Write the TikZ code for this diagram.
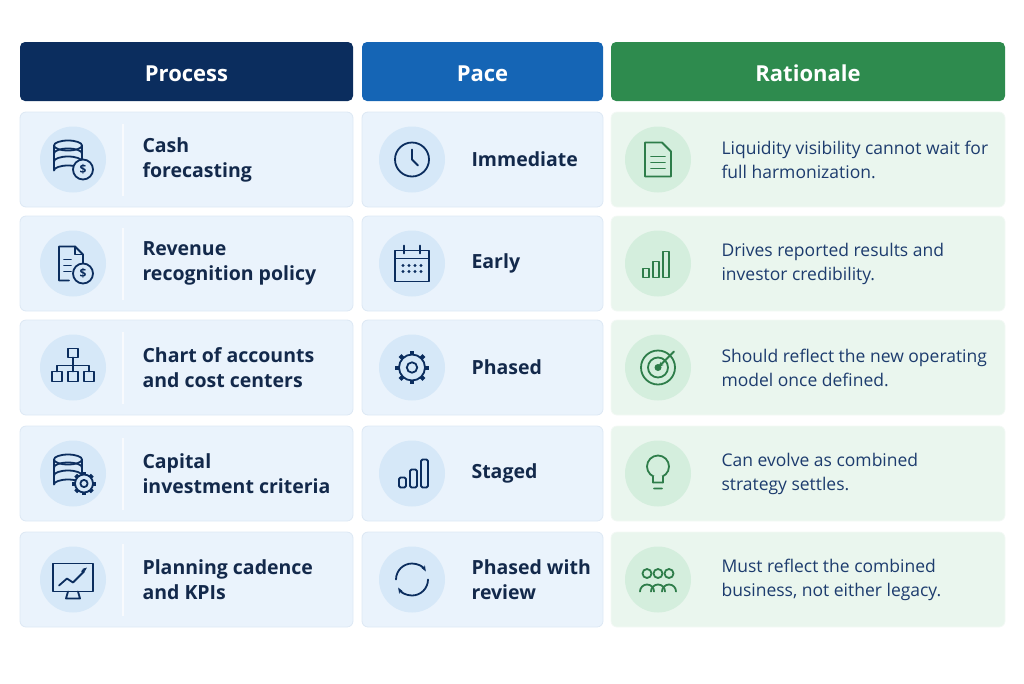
\documentclass[tikz,border=0pt]{standalone}
\usepackage{fontspec}
\setmainfont{Open Sans}
\usetikzlibrary{arrows.meta}
\definecolor{navy}{HTML}{0B2D5E}
\definecolor{paceblue}{HTML}{1565B5}
\definecolor{ratgreen}{HTML}{2E8B4E}
\definecolor{cellblue}{HTML}{EAF3FC}
\definecolor{cellgreen}{HTML}{EAF6EE}
\definecolor{cellline}{HTML}{DCE8F4}
\definecolor{icobg}{HTML}{D6E8F8}
\definecolor{icogbg}{HTML}{D4EEDD}
\definecolor{ink}{HTML}{13294B}
\definecolor{rink}{HTML}{1D3C6E}
\definecolor{gink}{HTML}{2E7D4A}
\tikzset{
  head/.style={rounded corners=5pt, text=white, font=\fontsize{22}{26}\selectfont\bfseries,
    minimum height=59pt, inner sep=0pt, text height=22pt, text depth=2pt},
  cell/.style={draw=cellline, line width=0.8pt, rounded corners=6pt, minimum height=95pt, inner sep=0pt},
  disc/.style={fill=icobg, circle, minimum size=66pt, inner sep=0pt},
  ico/.style={draw=navy, line width=1.8pt, line cap=round, line join=round},
  lbl/.style={anchor=west, align=left, text=ink, font=\fontsize{19.5}{25}\selectfont\bfseries},
  rlbl/.style={anchor=west, align=left, text=rink, font=\fontsize{17.5}{24}\selectfont},
  coin/.pic={\filldraw[ico, fill=icobg] (0,0) circle (10pt);
    \node[text=navy, font=\fontsize{12}{12}\selectfont\bfseries] at (0,0) {\$};},
  db/.pic={
    \draw[ico] (-5,-14) ellipse (14pt and 5pt);
    \draw[ico] (-19,-14) -- (-19,11) arc[start angle=180, end angle=0, x radius=14pt, y radius=5pt] -- (9,-14);
    \foreach \b in {-6,2} \draw[ico] (-19,\b) arc[start angle=180, end angle=0, x radius=14pt, y radius=5pt];},
  gear/.pic={
    \foreach \a in {0,45,...,315} \draw[navy, line width=4pt] (\a:8pt) -- (\a:13pt);
    \filldraw[ico, fill=icobg] (0,0) circle (10pt);
    \draw[ico] (0,0) circle (4pt);},
}
\begin{document}
\begin{tikzpicture}[x=1pt, y=-1pt]
  \useasboundingbox (0,0) rectangle (1024,683);
  \node[head, fill=navy, minimum width=333pt] (hproc) at (186.5,71.5) {Process};
  \node[head, fill=paceblue, minimum width=241pt] (hpace) at (482.5,71.5) {Pace};
  \node[head, fill=ratgreen, minimum width=394pt] (hrat) at (808,71.5) {Rationale};
  \foreach \n/\y/\ptext/\pace/\rtext in {
      1/159.5/{Cash\\forecasting}/Immediate/{Liquidity visibility cannot wait for\\full harmonization.},
      2/263.5/{Revenue\\recognition policy}/Early/{Drives reported results and\\investor credibility.},
      3/367.5/{Chart of accounts\\and cost centers}/Phased/{Should reflect the new operating\\model once defined.},
      4/473.5/{Capital\\investment criteria}/Staged/{Can evolve as combined\\strategy settles.},
      5/579.5/{Planning cadence\\and KPIs}/{Phased with\\review}/{Must reflect the combined\\business, not either legacy.}} {
    \node[cell, fill=cellblue, minimum width=333pt] (pc\n) at (186.5,\y) {};
    \node[cell, fill=cellblue, minimum width=241pt] (ac\n) at (482.5,\y) {};
    \node[cell, fill=cellgreen, draw=cellgreen!80!ratgreen!20, minimum width=394pt] (rc\n) at (808,\y) {};
    \node[disc] (pi\n) at (73,\y) {};
    \node[disc] (ai\n) at (412,\y) {};
    \node[disc, fill=icogbg] (ri\n) at (658,\y) {};
    \draw[white!80!cellline, line width=1.2pt] (123,\y-36) -- (123,\y+36);
    \node[lbl] (pt\n) at (139,\y) {\ptext};
    \node[lbl] (at\n) at (468,\y) {\pace};
    \node[rlbl] (rt\n) at (718,\y) {\rtext};
  }
  % process icons
  \pic at (pi1) {db};
  \pic at ([shift={(10,10)}]pi1.center) {coin};
  \draw[ico] ([shift={(-14,-17)}]pi2.center) -- ++(16,0) -- ++(8,8) -- ++(0,9)
    ([shift={(-4,17)}]pi2.center) -- ++(-10,0) -- ++(0,-34);
  \draw[ico] ([shift={(2,-17)}]pi2.center) -- ++(0,8) -- ++(8,0);
  \foreach \l in {-4,2,8} \draw[ico] ([shift={(-9,\l)}]pi2.center) -- ++(7,0);
  \pic at ([shift={(10,10)}]pi2.center) {coin};
  \draw[ico] ([shift={(-5,-19)}]pi3.center) rectangle ++(10,9);
  \draw[ico] ([shift={(0,-10)}]pi3.center) -- ++(0,8) ([shift={(-16,4)}]pi3.center) -- ++(0,-6) -- ++(32,0) -- ++(0,6);
  \foreach \d in {-16,0,16} \draw[ico] ([shift={(\d-5,4)}]pi3.center) rectangle ++(10,10);
  \draw[ico] ([shift={(0,-2)}]pi3.center) -- ++(0,6);
  \pic at (pi4) {db};
  \pic[scale=0.9] at ([shift={(11,10)}]pi4.center) {gear};
  \draw[ico] ([shift={(-20,-16)}]pi5.center) rectangle ++(40,28);
  \draw[ico] ([shift={(-5,12)}]pi5.center) -- ++(-2,7) -- ++(14,0) -- ++(-2,-7);
  \draw[ico] ([shift={(-14,6)}]pi5.center) -- ++(8,-7) -- ++(6,4) -- ++(11,-11);
  \draw[ico, -{Stealth[length=5pt]}] ([shift={(9,-8)}]pi5.center) -- ++(5,-4);
  % pace icons
  \draw[ico] (ai1) circle (17pt);
  \draw[ico] ([shift={(0,-10)}]ai1.center) -- (ai1.center) -- ++(6,6);
  \draw[ico] ([shift={(-17,-13)}]ai2.center) rectangle ++(34,31);
  \draw[ico] ([shift={(-17,-5)}]ai2.center) -- ++(34,0)
    ([shift={(-8,-18)}]ai2.center) -- ++(0,8) ([shift={(8,-18)}]ai2.center) -- ++(0,8);
  \foreach \cx in {-9,-3,3,9} \foreach \cy in {2,8} \fill[navy] ([shift={(\cx,\cy)}]ai2.center) circle (1.6pt);
  \pic[scale=1.3] at (ai3) {gear};
  \foreach \bx/\bh in {-13/10,-2/18,9/28}
    \draw[ico, rounded corners=1.5pt] ([shift={(\bx,14)}]ai4.center) rectangle ++(7,-\bh);
  \draw[ico, -{Stealth[length=6pt]}] ([shift={(16,0)}]ai5.center) arc[start angle=0, end angle=-150, radius=16pt];
  \draw[ico, -{Stealth[length=6pt]}] ([shift={(-16,0)}]ai5.center) arc[start angle=180, end angle=30, radius=16pt];
  % rationale icons
  \draw[ico, draw=gink] ([shift={(-13,-17)}]ri1.center) -- ++(17,0) -- ++(9,9) -- ++(0,25) -- ++(-26,0) -- cycle;
  \foreach \l in {-3,3,9} \draw[ico, draw=gink] ([shift={(-7,\l)}]ri1.center) -- ++(14,0);
  \foreach \bx/\bh in {-15/9,-5/16,5/26}
    \draw[ico, draw=gink] ([shift={(\bx,14)}]ri2.center) rectangle ++(6,-\bh);
  \draw[ico, draw=gink] (ri3) circle (17pt) (ri3) circle (10pt);
  \fill[gink] (ri3) circle (3.5pt);
  \draw[ico, draw=gink, -{Stealth[length=6pt]}] ([shift={(16,-16)}]ri3.center) -- (ri3.center);
  \draw[ico, draw=gink] ([shift={(0,-7)}]ri4.center) circle (11pt)
    ([shift={(-5,9)}]ri4.center) -- ++(10,0) ([shift={(-4,15)}]ri4.center) -- ++(8,0);
  \fill[icogbg] ([shift={(-4,2)}]ri4.center) rectangle ++(8,4);
  \draw[ico, draw=gink] ([shift={(-5,3)}]ri4.center) -- ++(0,6) ([shift={(5,3)}]ri4.center) -- ++(0,6);
  \foreach \px in {-11,0,11} {
    \draw[ico, draw=gink] ([shift={(\px,-6)}]ri5.center) circle (4.5pt);
    \draw[ico, draw=gink] ([shift={(\px-7,12)}]ri5.center) arc[start angle=180, end angle=0, radius=7pt];}
\end{tikzpicture}
\end{document}
